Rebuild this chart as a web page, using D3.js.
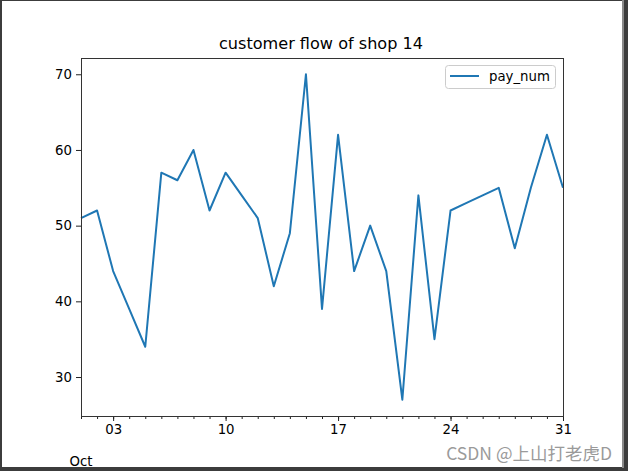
<!DOCTYPE html>
<html><head><meta charset="utf-8">
<script src="https://cdn.jsdelivr.net/npm/d3@7"></script>
<style>html,body{margin:0;padding:0;background:#fff;}svg{display:block;}</style>
</head><body>
<script>
const days = d3.range(1, 32);
const payNum = [51,52,44,39,34,57,56,60,52,57,54,51,42,49,70,39,62,44,50,44,27,54,35,52,53,54,55,47,55,62,55];
const majorTickDays = [3,10,17,24,31];
const majorTickLabels = ["03","10","17","24","31"];
const yTicks = [30,40,50,60,70];
const title = "customer flow of shop 14";
const seriesName = "pay_num";
const monthLabel = "Oct";
const watermark = "CSDN @上山打老虎D";

(function(){
const W = 628, H = 471;
const svg = d3.select("body").append("svg").attr("width", W).attr("height", H);
const font = "DejaVu Sans, sans-serif";

// frame
svg.append("rect").attr("x",0).attr("y",0).attr("width",W).attr("height",H).attr("fill","#3c3c3c");
svg.append("rect").attr("x",2).attr("y",1).attr("width",620).attr("height",466).attr("fill","#fff");
svg.append("rect").attr("x",622).attr("y",0).attr("width",2).attr("height",468).attr("fill","#8a8a8a");

const date = d => new Date(2016, 9, d);
const mL = 81, mR = 563, mT = 58, mB = 416;
const x = d3.scaleTime().domain([date(1), date(31)]).range([mL, mR]);
const yMin = d3.min(payNum), yMax = d3.max(payNum), pad = (yMax - yMin) * 0.05;
const y = d3.scaleLinear().domain([yMin - pad, yMax + pad]).range([mB, mT]);

const g = svg.append("g");

// line
const line = d3.line().x((d,i) => x(date(days[i]))).y(d => y(d));
g.append("path").datum(payNum).attr("d", line).attr("fill","none")
  .attr("stroke","#1f77b4").attr("stroke-width",2).attr("stroke-linejoin","round");

// y axis
const yAxis = d3.axisLeft(y).tickValues(yTicks).tickSize(5).tickPadding(4).tickFormat(d3.format("d"));
const ya = svg.append("g").attr("transform",`translate(${mL},0)`).call(yAxis);
ya.select(".domain").remove();
ya.selectAll("text").attr("font-family",font).attr("font-size",13.3).attr("fill","#000");
ya.selectAll("line").attr("stroke","#222");

// x minor ticks
const xMinor = d3.axisBottom(x).tickValues(days.map(date)).tickSize(3).tickFormat("");
const xm = svg.append("g").attr("transform",`translate(0,${mB})`).call(xMinor);
xm.select(".domain").remove();
xm.selectAll("line").attr("stroke","#222");

// x major ticks
const xAxis = d3.axisBottom(x).tickValues(majorTickDays.map(date)).tickSize(5).tickPadding(4)
  .tickFormat((d,i) => majorTickLabels[i]);
const xa = svg.append("g").attr("transform",`translate(0,${mB})`).call(xAxis);
xa.select(".domain").remove();
xa.selectAll("text").attr("font-family",font).attr("font-size",13.3).attr("fill","#000");
xa.selectAll("line").attr("stroke","#222");

svg.append("text").attr("x", x(date(1))).attr("y", 466).attr("text-anchor","middle")
  .attr("font-family",font).attr("font-size",13.3).attr("fill","#000").text(monthLabel);

// spines
svg.append("rect").attr("x",mL).attr("y",mT).attr("width",mR-mL).attr("height",mB-mT)
  .attr("fill","none").attr("stroke","#333").attr("stroke-width",1).attr("shape-rendering","crispEdges");

// title
svg.append("text").attr("x",(mL+mR)/2 - 1).attr("y",49).attr("text-anchor","middle")
  .attr("font-family",font).attr("font-size",16.1).attr("fill","#000").text(title);

// legend
const lg = svg.append("g");
lg.append("rect").attr("x",445.5).attr("y",65.5).attr("width",110).attr("height",23).attr("rx",3)
  .attr("fill","#fff").attr("fill-opacity",0.8).attr("stroke","#ccc");
lg.append("line").attr("x1",450).attr("x2",479).attr("y1",76).attr("y2",76)
  .attr("stroke","#1f77b4").attr("stroke-width",2);
lg.append("text").attr("x",489).attr("y",81).attr("font-family",font).attr("font-size",13.3)
  .attr("fill","#000").text(seriesName);

// watermark
svg.append("text").attr("x",612).attr("y",460).attr("text-anchor","end")
  .attr("font-family","Noto Sans CJK SC, sans-serif").attr("font-size",17.5).attr("fill","#9a9a9a")
  .text(watermark);
})();
</script>
</body></html>
